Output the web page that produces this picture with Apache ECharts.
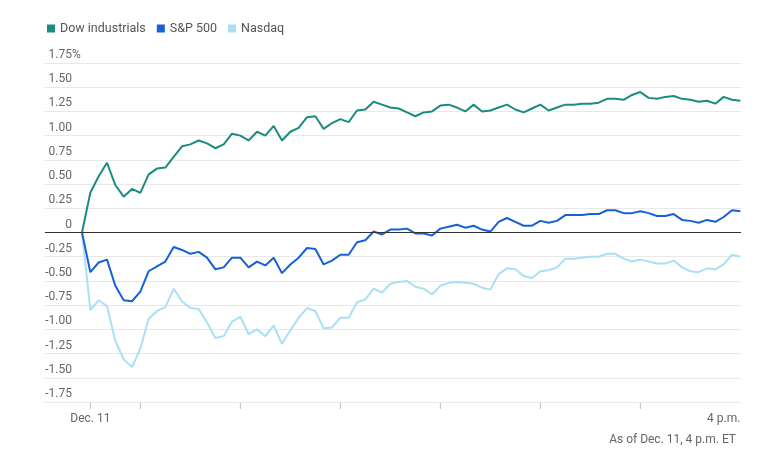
<!DOCTYPE html>
<html>
<head>
<meta charset="utf-8">
<script src="https://cdn.jsdelivr.net/npm/echarts@6/dist/echarts.min.js"></script>
<style>
  html, body { margin: 0; padding: 0; background: #fff; }
  #chart { width: 782px; height: 468px; }
</style>
</head>
<body>
<div id="chart"></div>
<script>
// Time of each 5-minute reading, minutes after 9:30 a.m. (9:25 = previous close baseline ... 4 p.m.)
const startMinute = -5;
const stepMinutes = 5;

const dow = [0, 0.41, 0.58, 0.72, 0.49, 0.37, 0.45, 0.41, 0.60, 0.66, 0.67, 0.78, 0.89, 0.91,
  0.95, 0.92, 0.87, 0.91, 1.02, 1.00, 0.95, 1.04, 1.00, 1.10, 0.95, 1.04, 1.08,
  1.19, 1.20, 1.07, 1.13, 1.17, 1.14, 1.26, 1.27, 1.35, 1.32, 1.29, 1.28, 1.24,
  1.20, 1.24, 1.25, 1.31, 1.32, 1.29, 1.25, 1.32, 1.25, 1.26, 1.29, 1.32, 1.27,
  1.24, 1.28, 1.32, 1.26, 1.29, 1.32, 1.32, 1.33, 1.33, 1.34, 1.38, 1.38, 1.37,
  1.42, 1.45, 1.39, 1.38, 1.40, 1.41, 1.38, 1.37, 1.35, 1.36, 1.33, 1.40, 1.37, 1.36];

const sp500 = [0, -0.41, -0.31, -0.28, -0.55, -0.70, -0.71, -0.61, -0.40, -0.35, -0.30, -0.15, -0.18, -0.22,
  -0.20, -0.26, -0.38, -0.36, -0.26, -0.26, -0.36, -0.30, -0.34, -0.26, -0.42, -0.33, -0.26,
  -0.16, -0.17, -0.33, -0.29, -0.23, -0.23, -0.10, -0.08, 0.01, -0.02, 0.03, 0.03, 0.04,
  -0.01, -0.01, -0.03, 0.04, 0.06, 0.08, 0.05, 0.07, 0.03, 0.01, 0.11, 0.15, 0.11,
  0.07, 0.07, 0.12, 0.10, 0.12, 0.18, 0.18, 0.18, 0.19, 0.19, 0.23, 0.23, 0.20,
  0.20, 0.22, 0.20, 0.17, 0.17, 0.19, 0.13, 0.12, 0.10, 0.13, 0.11, 0.16, 0.23, 0.22];

const nasdaq = [0, -0.80, -0.70, -0.76, -1.12, -1.31, -1.39, -1.20, -0.89, -0.81, -0.77, -0.58, -0.71, -0.78,
  -0.79, -0.93, -1.09, -1.07, -0.92, -0.87, -1.05, -1.00, -1.07, -0.96, -1.15, -1.01, -0.88,
  -0.78, -0.81, -0.99, -0.98, -0.88, -0.88, -0.72, -0.69, -0.58, -0.62, -0.53, -0.51, -0.50,
  -0.56, -0.58, -0.64, -0.55, -0.52, -0.51, -0.52, -0.53, -0.57, -0.59, -0.43, -0.37, -0.38,
  -0.45, -0.47, -0.40, -0.39, -0.36, -0.27, -0.27, -0.26, -0.25, -0.25, -0.22, -0.22, -0.27,
  -0.30, -0.28, -0.30, -0.32, -0.32, -0.29, -0.36, -0.40, -0.41, -0.37, -0.38, -0.33, -0.23, -0.25];

const seriesNames = ['Dow industrials', 'S&P 500', 'Nasdaq'];
const yMin = -1.75;
const yMax = 1.75;
const yStep = 0.25;
const xTickMinutes = [0, 30, 90, 150, 210, 270, 330];
const xLabelMinutes = [0, 390];
const xLabelText = { 0: 'Dec. 11', 390: '4 p.m.' };
const footnote = 'As of Dec. 11, 4 p.m. ET';

const colors = ['#1c8c81', '#1661d6', '#a9e0f4'];

function pairs(vals) {
  return vals.map((v, i) => [startMinute + i * stepMinutes, v]);
}

const chart = echarts.init(document.getElementById('chart'), null, { renderer: 'canvas' });
const font = 'Roboto, "Liberation Sans", sans-serif';

chart.setOption({
  animation: false,
  backgroundColor: '#fff',
  color: colors,
  textStyle: { fontFamily: font },
  title: {
    text: footnote,
    right: 41,
    top: 429,
    textStyle: { fontSize: 12, fontWeight: 'normal', color: '#666', fontFamily: font }
  },
  legend: {
    left: 42,
    top: 17,
    icon: 'rect',
    itemWidth: 8,
    itemHeight: 8,
    itemGap: 11,
    textStyle: { fontSize: 12.5, color: '#555', fontFamily: font },
    data: seriesNames
  },
  grid: { left: 45, right: 41, top: 63, bottom: 66, containLabel: false },
  xAxis: {
    type: 'value',
    min: -27.2,
    max: 390.4,
    splitLine: { show: false },
    axisLine: { show: true, lineStyle: { color: '#dcdcdc', width: 1 } },
    axisTick: { show: false },
    axisLabel: {
      customValues: xLabelMinutes,
      formatter: v => xLabelText[v] || '',
      color: '#666',
      fontSize: 12,
      margin: 11,
      align: 'center',
      alignMaxLabel: 'right',
      showMinLabel: true,
      showMaxLabel: true
    }
  },
  yAxis: {
    type: 'value',
    min: yMin,
    max: yMax,
    interval: yStep,
    axisLine: { show: false },
    axisTick: { show: false },
    splitLine: { show: true, lineStyle: { color: '#e8e8e8', width: 1 } },
    axisLabel: {
      inside: true,
      margin: 36,
      align: 'right',
      verticalAlign: 'bottom',
      color: '#666',
      fontSize: 12,
      padding: [0, 0, 2, 0],
      formatter: function (v) {
        const s = v === 0 ? '0' : v.toFixed(2);
        return '{n|' + s + '}{p|' + (v === yMax ? '%' : ' ') + '}';
      },
      rich: {
        n: { fontSize: 12, color: '#666', fontFamily: font },
        p: { width: 9, align: 'left', fontSize: 12, color: '#666', fontFamily: font }
      }
    }
  },
  series: [
    {
      name: seriesNames[0], type: 'line', data: pairs(dow), showSymbol: false, symbol: 'none',
      lineStyle: { width: 2, color: colors[0] }, z: 3,
      markLine: {
        silent: true, symbol: 'none', label: { show: false },
        lineStyle: { color: '#333', width: 1, type: 'solid' },
        data: [{ yAxis: 0 }]
      }
    },
    { name: seriesNames[1], type: 'line', data: pairs(sp500), showSymbol: false, symbol: 'none',
      lineStyle: { width: 2, color: colors[1] }, z: 3 },
    { name: seriesNames[2], type: 'line', data: pairs(nasdaq), showSymbol: false, symbol: 'none',
      lineStyle: { width: 2, color: colors[2] }, z: 2 },
    {
      // hour tick marks under the time axis
      name: 'ticks', type: 'scatter', silent: true, clip: false,
      data: xTickMinutes.map(t => [t, yMin]),
      symbol: 'rect', symbolSize: [1, 6], symbolOffset: [0, 4],
      itemStyle: { color: '#aaa' }, z: 1, tooltip: { show: false }
    }
  ]
});
</script>
</body>
</html>
